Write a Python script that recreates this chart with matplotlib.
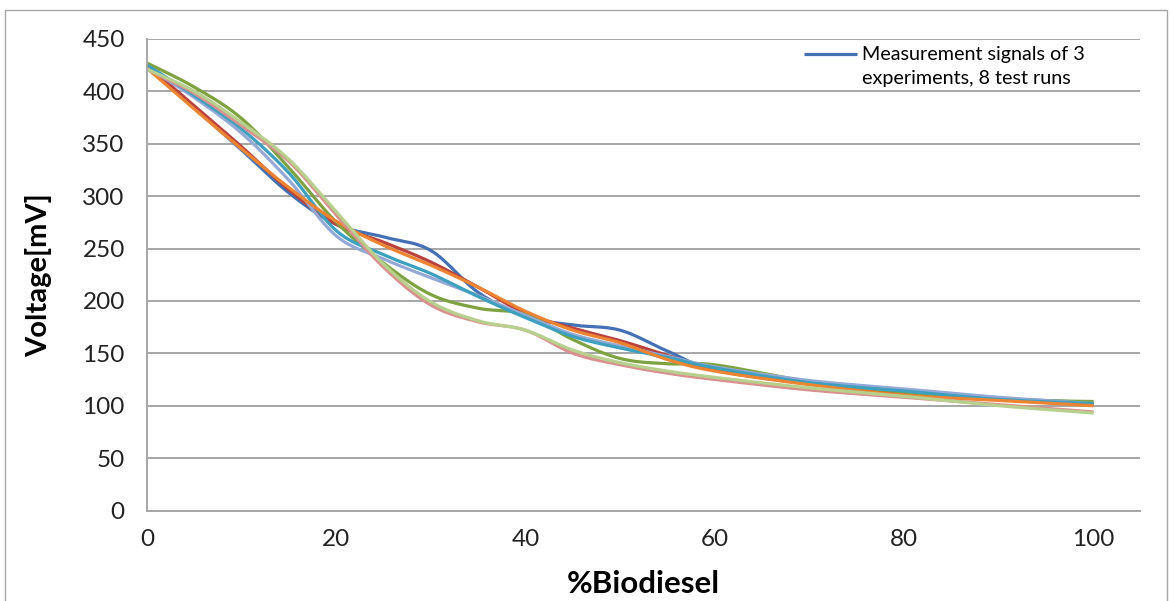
import matplotlib.pyplot as plt
import numpy as np
from matplotlib.patches import Rectangle

# %Biodiesel sample points
biodiesel = [0, 5, 10, 15, 20, 25, 30, 35, 40, 45, 50, 55, 60, 70, 80, 90, 100]

# voltage (mV), one list per test run
run1 = [425, 384, 344, 303, 273, 261, 248, 208, 185, 177, 172, 152, 134, 121, 113, 107, 103]
run2 = [425, 386, 347, 306, 273, 256, 237, 213, 188, 174, 162, 148, 134, 121, 112, 107, 102]
run3 = [427, 404, 374, 327, 275, 236, 206, 193, 187, 163, 145, 140, 139, 123, 113, 106, 104]
run4 = [423, 394, 360, 315, 262, 240, 222, 205, 186, 168, 157, 147, 137, 124, 116, 108, 102]
run5 = [425, 396, 364, 322, 267, 244, 226, 204, 184, 166, 155, 146, 136, 122, 114, 106, 102]
run6 = [422, 383, 345, 308, 276, 253, 234, 213, 190, 172, 160, 144, 133, 120, 110, 105, 100]
run7 = [421, 398, 367, 333, 282, 232, 196, 180, 172, 150, 139, 131, 125, 115, 108, 101, 94]
run8 = [421, 400, 370, 335, 285, 235, 199, 181, 172, 153, 141, 133, 127, 117, 109, 100, 93]

runs = [run1, run2, run3, run4, run5, run6, run7, run8]
colors = ['#4471B3', '#B9413E', '#7EA23F', '#95A9D6', '#3CA0BE', '#EC8432', '#D9908F', '#B8D08E']

legend_text = 'Measurement signals of 3\nexperiments, 8 test runs'


def smooth(x, y, n=24):
    # excel style smoothed line: bezier segments through every point
    x = np.asarray(x, float)
    y = np.asarray(y, float)
    px = np.concatenate([[x[0]], x, [x[-1]]])
    py = np.concatenate([[y[0]], y, [y[-1]]])
    xs, ys = [], []
    t = np.linspace(0, 1, n)
    for i in range(len(x) - 1):
        p0 = np.array([px[i + 1], py[i + 1]])
        p3 = np.array([px[i + 2], py[i + 2]])
        c1 = p0 + (p3 - np.array([px[i], py[i]])) / 6
        c2 = p3 - (np.array([px[i + 3], py[i + 3]]) - p0) / 6
        b = (np.outer((1 - t) ** 3, p0) + np.outer(3 * (1 - t) ** 2 * t, c1)
             + np.outer(3 * (1 - t) * t ** 2, c2) + np.outer(t ** 3, p3))
        xs.extend(b[:, 0])
        ys.extend(b[:, 1])
    return xs, ys


plt.rcParams['font.family'] = ['Lato', 'DejaVu Sans']

fig = plt.figure(figsize=(11.71, 6.01), dpi=100)
ax = fig.add_axes([147 / 1171, 90.5 / 601, 993 / 1171, 471.6 / 601])

for i, r in enumerate(runs):
    sx, sy = smooth(biodiesel, r)
    ax.plot(sx, sy, color=colors[i], lw=2.3, solid_capstyle='butt',
            label=legend_text if i == 0 else None)

ax.set_xlim(0, 104.9)
ax.set_ylim(0, 450)
ax.set_xticks(range(0, 101, 20))
ax.set_yticks(range(0, 451, 50))
ax.yaxis.grid(True, color='#A6A6A6', lw=1.4)
ax.set_axisbelow(True)
for s in ['top', 'right']:
    ax.spines[s].set_visible(False)
for s in ['left', 'bottom']:
    ax.spines[s].set_color('#A6A6A6')
    ax.spines[s].set_linewidth(1.4)
ax.tick_params(length=0, labelsize=17.5, colors='#222222')
ax.tick_params(axis='y', pad=16)
ax.tick_params(axis='x', pad=13)

ax.set_xlabel('%Biodiesel', fontsize=22.5, fontweight='bold', labelpad=15)
ax.set_ylabel('Voltage[mV]', fontsize=21, fontweight='bold', labelpad=22)

leg = ax.legend(loc='upper left', bbox_to_anchor=(0.644, 1.022), frameon=False,
                fontsize=14.2, handlelength=2.7, handletextpad=0.25)
for t in leg.get_texts():
    t.set_linespacing(1.5)
# handle sits on the first text line, as in the spreadsheet legend
hl = leg.get_lines()[0]
hl.set_ydata(np.asarray(hl.get_ydata()) + 9)

fig.patches.append(Rectangle((5 / 1171, -0.05), 1162 / 1171, 1.05 - 10 / 601,
                             transform=fig.transFigure, fill=False,
                             edgecolor='#A6A6A6', lw=1))

fig.savefig('out.png', dpi=100)
